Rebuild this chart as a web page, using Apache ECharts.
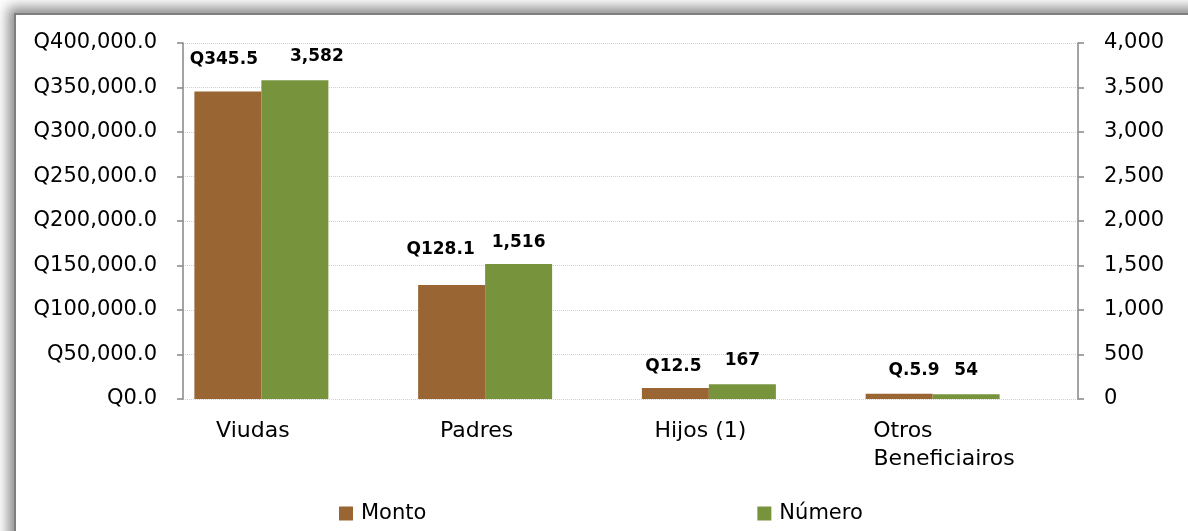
<!DOCTYPE html>
<html>
<head>
<meta charset="utf-8">
<script src="https://cdn.jsdelivr.net/npm/echarts@6/dist/echarts.min.js"></script>
<style>
  html, body { margin: 0; padding: 0; background: #fff; }
  #frame {
    position: absolute; left: 14px; top: 13px; width: 1200px; height: 540px;
    background: #fff; border: 2px solid #7f7f7f;
    box-shadow: -3px -3px 12px 3px rgba(0, 0, 0, 0.45);
  }
  #chart { position: absolute; left: 0; top: 0; width: 1188px; height: 531px; }
</style>
</head>
<body>
<div id="frame"></div>
<div id="chart"></div>
<script>
const categories = ['Viudas', 'Padres', 'Hijos (1)', 'Otros\nBeneficiairos'];
const montoValues = [345500, 128100, 12500, 5900];
const montoLabels = ['Q345.5', 'Q128.1', 'Q12.5', 'Q.5.9'];
const numeroValues = [3582, 1516, 167, 54];

// hand placed data labels in the original, nudges in px [dx, dy]
const montoNudge = [[-4, 0], [-11, -4], [-2, 10], [15, 8]];
const numeroNudge = [[22, 3], [0, 5], [0, 3], [0, 3]];

const font = 'DejaVu Sans';
const axisColor = '#868686';

function withNudge(values, nudge) {
  return values.map((v, i) => ({ value: v, label: { offset: nudge[i] } }));
}

const chart = echarts.init(document.getElementById('chart'));
const option = {
  backgroundColor: 'transparent',
  animation: false,
  textStyle: { fontFamily: font },
  grid: [
    { left: 183, right: 110, top: 43, bottom: 132 },
    { left: 141, right: 152, top: 43, bottom: 132 }
  ],
  legend: {
    data: ['Monto', 'Número'],
    left: 339,
    top: 503,
    padding: 0,
    itemWidth: 14,
    itemHeight: 14,
    itemGap: 331,
    icon: 'rect',
    textStyle: { fontFamily: font, fontSize: 21, color: '#000', padding: [0, 0, 0, 3] }
  },
  xAxis: [{
    type: 'category',
    gridIndex: 0,
    data: categories,
    axisLine: { show: false },
    axisTick: { show: false },
    axisLabel: { show: false }
  }, {
    type: 'category',
    gridIndex: 1,
    data: categories,
    axisLine: { show: false },
    axisTick: { show: false },
    axisLabel: {
      interval: 0,
      margin: 18,
      fontFamily: font,
      fontSize: 22,
      color: '#000',
      lineHeight: 28,
      formatter: function (v) {
        const parts = v.split('\n');
        if (parts.length === 1) return v;
        return '{o|' + parts[0] + '}\n{b|' + parts[1] + '}';
      },
      rich: {
        o: { fontFamily: font, fontSize: 22, color: '#000', width: 142, align: 'left', lineHeight: 28, padding: [0, 0, 0, 40] },
        b: { fontFamily: font, fontSize: 22, color: '#000', lineHeight: 28, padding: [0, 0, 0, 40] }
      }
    }
  }],
  yAxis: [{
    type: 'value',
    gridIndex: 0,
    min: 0,
    max: 400000,
    interval: 50000,
    axisLine: { show: true, lineStyle: { color: axisColor, width: 1.5 } },
    axisTick: { show: true, length: 6, lineStyle: { color: axisColor, width: 1.5 } },
    axisLabel: {
      margin: 26,
      fontFamily: font,
      fontSize: 21,
      color: '#000',
      formatter: v => 'Q' + v.toLocaleString('en-US', { minimumFractionDigits: 1, maximumFractionDigits: 1 })
    },
    splitLine: { show: true, lineStyle: { color: '#d0d0d0', type: 'dotted' } }
  }, {
    type: 'value',
    gridIndex: 0,
    position: 'right',
    min: 0,
    max: 4000,
    interval: 500,
    axisLine: { show: true, lineStyle: { color: axisColor, width: 1.5 } },
    axisTick: { show: true, length: 6, lineStyle: { color: axisColor, width: 1.5 } },
    axisLabel: {
      margin: 26,
      fontFamily: font,
      fontSize: 21,
      color: '#000',
      formatter: v => v.toLocaleString('en-US')
    },
    splitLine: { show: false }
  }, {
    type: 'value',
    gridIndex: 1,
    show: false
  }],
  series: [{
    name: 'Monto',
    type: 'bar',
    xAxisIndex: 0,
    yAxisIndex: 0,
    barWidth: 67,
    barGap: '0%',
    data: withNudge(montoValues, montoNudge),
    itemStyle: { color: '#996633' },
    label: {
      show: true,
      position: 'top',
      distance: 23,
      fontFamily: font,
      fontSize: 17,
      fontWeight: 'bold',
      color: '#000',
      formatter: p => montoLabels[p.dataIndex]
    }
  }, {
    name: 'Número',
    type: 'bar',
    xAxisIndex: 0,
    yAxisIndex: 1,
    barWidth: 67,
    barGap: '0%',
    data: withNudge(numeroValues, numeroNudge),
    itemStyle: { color: '#77933c' },
    label: {
      show: true,
      position: 'top',
      distance: 18,
      fontFamily: font,
      fontSize: 17,
      fontWeight: 'bold',
      color: '#000',
      formatter: p => p.value.toLocaleString('en-US')
    }
  }, {
    name: '',
    type: 'bar',
    xAxisIndex: 0,
    yAxisIndex: 0,
    barWidth: 67,
    barGap: '0%',
    silent: true,
    data: [null, null, null, null]
  }]
};
chart.setOption(option);
</script>
</body>
</html>
